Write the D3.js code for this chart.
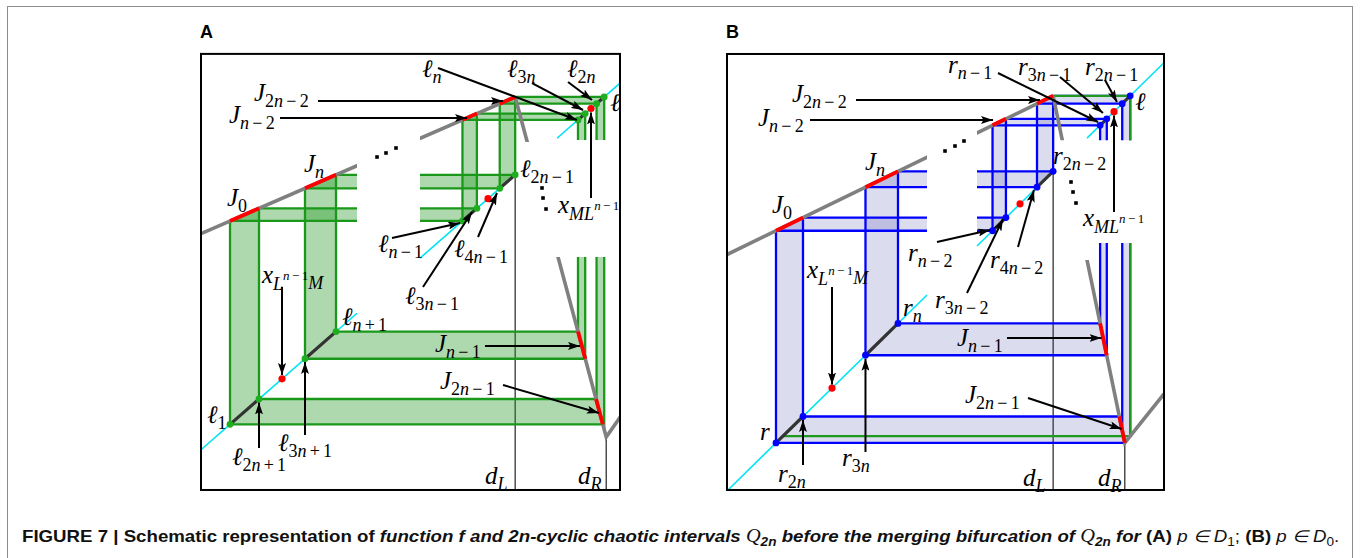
<!DOCTYPE html>
<html>
<head>
<meta charset="utf-8">
<script src="https://cdn.jsdelivr.net/npm/d3@7"></script>
<style>
  body { margin: 0; background: #fff; }
  svg { display: block; }
</style>
</head>
<body>
<svg id="fig" width="1360" height="558"></svg>
<script>
// ---------------------------------------------------------------
// Schematic of the map f and the 2n-cyclic chaotic intervals.
// All geometry lives on the unit square: the diagonal is y = x.
// ---------------------------------------------------------------

// ----- Panel A  (p in D1) -----
// orbit points on the diagonal
const orbitNamesA = ["ℓ1","ℓ2n+1","ℓ3n+1","ℓn+1","ℓn−1","ℓ3n−1","ℓ4n−1","ℓ2n−1","ℓn","ℓ3n","ℓ2n","ℓ"];
const orbitValsA  = [0.0694,0.1388,0.2488,0.3230,0.6255,0.6600,0.7147,0.7516,0.9019,0.9191,0.9463,0.9646];
// graph of f: left end, maximum, minimum, right end
const graphA = [[0,0.591],[0.7516,0.9646],[0.9694,0.0349],[1.02,0.1175]];
// fixed-point markers on the diagonal (red)
const markA = [0.1938, 0.6866, 0.933];
// visible pieces of the diagonal
const diagA = [[0,0.3732],[0.5239,0.7584],[0.8517,1.01]];
const gapXA = [0.3732, 0.5239];       // break on the left branch
const gapYBandA = [0.527, 0.847];     // break on the tall vertical strips
const gapYGraphA = [0.527, 0.8414];   // break on the right branch
const boxA = [0, 1.0024, -0.110, 1.0823];

// ----- Panel B  (p in D0) -----
const orbitNamesB = ["r","r2n","r3n","rn","rn−2","r3n−2","r4n−2","r2n−2","rn−1","r3n−1","r2n−1","ℓ"];
const orbitValsB  = [0.1121,0.1739,0.3169,0.3913,0.6076,0.6383,0.7094,0.7463,0.8538,0.8691,0.9044,0.9227];
const graphB = [[0,0.5519],[0.7463,0.9227],[0.9103,0.1121],[1.0,0.227]];
const markB = [0.2403, 0.6705, 0.8856];
const diagB = [[0.0023,0.4577],[0.5721,0.7506],[0.8238,1.0]];
const gapXB = [0.4577, 0.5721];
const gapYBandB = [0.5789, 0.8192];
const gapYGraphB = [0.5394, 0.8192];
const boxB = [0, 1, 0.0023, 1.0204];

// intervals J_k = [orbit i, orbit j]  (J0, Jn, Jn-2, J2n-2, Jn-1, J2n-1)
const intervalIdx = [[0,1],[2,3],[4,5],[6,7],[8,9],[10,11]];
// image of each J_k on the diagonal and the branch of f used
const imageIdx = [[4,5,"L"],[6,7,"L"],[8,9,"L"],[10,11,"L"],[2,3,"R"],[0,1,"R"]];
const gapYStrips = [4,5];   // vertical strips broken in the middle
const gapXStrips = [0,1];   // horizontal strips broken in the middle

// ----- annotations (data coordinates) -----
const labelsA = [
  {x:0.1268,y:0.9535,base:"J",sub:"2n−2"},
  {x:0.0670,y:0.8934,base:"J",sub:"n−2"},
  {x:0.2464,y:0.7594,base:"J",sub:"n"},
  {x:0.0622,y:0.6664,base:"J",sub:"0"},
  {x:0.5287,y:1.0191,base:"ℓ",sub:"n"},
  {x:0.7321,y:1.0191,base:"ℓ",sub:"3n"},
  {x:0.8756,y:1.0191,base:"ℓ",sub:"2n"},
  {x:0.9785,y:0.9262,base:"ℓ"},
  {x:0.8541,y:0.6473,base:"x",sub:"ML",sup:"n−1"},
  {x:0.7632,y:0.7457,base:"ℓ",sub:"2n−1"},
  {x:0.4234,y:0.5407,base:"ℓ",sub:"n−1"},
  {x:0.6053,y:0.5270,base:"ℓ",sub:"4n−1"},
  {x:0.4880,y:0.3985,base:"ℓ",sub:"3n−1"},
  {x:0.1459,y:0.4559,base:"x",sub:"L",sup:"n−1",sub2:"M"},
  {x:0.3373,y:0.3411,base:"ℓ",sub:"n+1"},
  {x:0.5598,y:0.2673,base:"J",sub:"n−1"},
  {x:0.5718,y:0.1661,base:"J",sub:"2n−1"},
  {x:0.0144,y:0.0731,base:"ℓ",sub:"1"},
  {x:0.0742,y:-0.0417,base:"ℓ",sub:"2n+1"},
  {x:0.1842,y:-0.0034,base:"ℓ",sub:"3n+1"},
  {x:0.6794,y:-0.0936,base:"d",sub:"L"},
  {x:0.9019,y:-0.0936,base:"d",sub:"R"}
];
const arrowsA = [
  [0.2799,0.9535,0.7225,0.9535],
  [0.1890,0.9070,0.6364,0.9070],
  [0.5670,1.0437,0.8995,0.9016],
  [0.7919,1.0027,0.9139,0.9289],
  [0.8780,1.0055,0.9354,0.9563],
  [0.9330,0.6883,0.9330,0.9221],
  [0.4569,0.5789,0.6196,0.6197],
  [0.6627,0.5817,0.7081,0.7020],
  [0.5311,0.4450,0.6483,0.6500],
  [0.1938,0.4450,0.1938,0.2044],
  [0.6794,0.2837,0.9067,0.2837],
  [0.7225,0.1770,0.9520,0.1005],
  [0.1388,0.0048,0.1388,0.1292],
  [0.2488,0.0403,0.2488,0.2399]
];
const dotsA = [[0.4211,0.8004],[0.4426,0.8114],[0.4665,0.8250],
               [0.8158,0.7157],[0.8182,0.6883],[0.8254,0.6582]];

const labelsB = [
  {x:0.1487,y:0.9083,base:"J",sub:"2n−2"},
  {x:0.0709,y:0.8522,base:"J",sub:"n−2"},
  {x:0.3158,y:0.7495,base:"J",sub:"n"},
  {x:0.1030,y:0.6491,base:"J",sub:"0"},
  {x:0.5057,y:0.9760,base:"r",sub:"n−1"},
  {x:0.6659,y:0.9713,base:"r",sub:"3n−1"},
  {x:0.8192,y:0.9713,base:"r",sub:"2n−1"},
  {x:0.9336,y:0.8896,base:"ℓ"},
  {x:0.7460,y:0.7635,base:"r",sub:"2n−2"},
  {x:0.8146,y:0.6187,base:"x",sub:"ML",sup:"n−1"},
  {x:0.4142,y:0.5370,base:"r",sub:"n−2"},
  {x:0.6018,y:0.5207,base:"r",sub:"4n−2"},
  {x:0.4760,y:0.4273,base:"r",sub:"3n−2"},
  {x:0.1831,y:0.4973,base:"x",sub:"L",sup:"n−1",sub2:"M"},
  {x:0.4027,y:0.4086,base:"r",sub:"n"},
  {x:0.5263,y:0.3385,base:"J",sub:"n−1"},
  {x:0.5446,y:0.2054,base:"J",sub:"2n−1"},
  {x:0.0755,y:0.1190,base:"r"},
  {x:0.1167,y:0.0210,base:"r",sub:"2n"},
  {x:0.2632,y:0.0583,base:"r",sub:"3n"},
  {x:0.6773,y:0.0116,base:"d",sub:"L"},
  {x:0.8490,y:0.0116,base:"d",sub:"R"}
];
const arrowsB = [
  [0.2952,0.9130,0.7162,0.9130],
  [0.1899,0.8663,0.6087,0.8663],
  [0.6201,0.9760,0.8490,0.8616],
  [0.7620,0.9667,0.8604,0.8826],
  [0.8650,0.9597,0.8924,0.9083],
  [0.8856,0.6514,0.8856,0.8768],
  [0.4805,0.5814,0.6018,0.6094],
  [0.6659,0.5697,0.7025,0.7028],
  [0.5492,0.4623,0.6316,0.6351],
  [0.2403,0.4763,0.2403,0.2486],
  [0.6407,0.3572,0.8570,0.3572],
  [0.6888,0.2171,0.9030,0.1447],
  [0.1739,0.0607,0.1739,0.1657],
  [0.3169,0.0910,0.3169,0.3086]
];
const dotsB = [[0.4989,0.7939],[0.5217,0.8055],[0.5423,0.8172],
               [0.7872,0.7215],[0.7918,0.6981],[0.7986,0.6724]];

// caption runs: [text, style]
const captionRuns = [
  ["FIGURE 7 | Schematic representation of ", "b"],
  ["function f and 2n-cyclic chaotic intervals ", "bi"],
  ["Q", "q"], ["2n", "qs"],
  [" before the merging bifurcation of ", "bi"],
  ["Q", "q"], ["2n", "qs"],
  [" for ", "bi"],
  ["(A)", "b"], [" p ∈ D", "i"], ["1", "s"], ["; ", "n"],
  ["(B)", "b"], [" p ∈ D", "i"], ["0", "s"], [".", "n"]
];

// ---------------------------------------------------------------
const MATH_FONT = "'Liberation Serif','DejaVu Serif',serif";
const svg = d3.select("#fig");
const defs = svg.append("defs");

defs.append("marker").attr("id", "arrowhead")
  .attr("viewBox", "0 0 12 8").attr("refX", 12).attr("refY", 4)
  .attr("markerWidth", 12).attr("markerHeight", 8)
  .attr("markerUnits", "userSpaceOnUse").attr("orient", "auto")
  .append("path").attr("d", "M0,0 L12,4 L0,8 L2.5,4 Z").attr("fill", "#000");

// outer frame of the figure
svg.append("rect").attr("x", 7.5).attr("y", 6.5).attr("width", 1345).attr("height", 700)
  .attr("fill", "none").attr("stroke", "#8c8c8c").attr("stroke-width", 1);

const MAIN_SIZE = 25, SUB_SIZE = 18, SUP_SIZE = 13;

function mathLabel(g, px, py, spec) {
  const t = g.append("text").attr("x", px).attr("y", py)
    .attr("font-family", MATH_FONT).attr("fill", "#000");
  let cur = 0;
  const run = (str, size, shift) => {
    const toks = str.match(/[A-Za-zℓ]+|[−+]|[0-9]+/g) || [];
    let prevOp = false;
    toks.forEach(tok => {
      const isLetter = /[A-Za-zℓ]/.test(tok);
      const isOp = /[−+]/.test(tok);
      const ts = t.append("tspan").text(tok)
        .attr("font-size", size)
        .attr("font-style", isLetter ? "italic" : "normal")
        .attr("dy", shift - cur);
      if (isOp || prevOp) ts.attr("dx", size * 0.18);
      prevOp = isOp;
      cur = shift;
    });
  };
  run(spec.base, MAIN_SIZE, 0);
  if (spec.sub) run(spec.sub, SUB_SIZE, spec.sup ? 7 : 6);
  if (spec.sup) run(spec.sup, SUP_SIZE, -3);
  if (spec.sub2) run(spec.sub2, SUB_SIZE, 6);
}

function drawPanel(P) {
  const x = d3.scaleLinear().domain([0, 1]).range(P.xRange);
  const y = d3.scaleLinear().domain([0, 1]).range(P.yRange);
  const id = P.id;
  const bx0 = x(P.box[0]), bx1 = x(P.box[1]);
  const by0 = y(P.box[3]), by1 = y(P.box[2]);

  defs.append("clipPath").attr("id", id + "-box").append("rect")
    .attr("x", bx0).attr("y", by0).attr("width", bx1 - bx0).attr("height", by1 - by0);
  const clipX = (gap, name) => {
    const cp = defs.append("clipPath").attr("id", name);
    cp.append("rect").attr("x", bx0).attr("y", by0).attr("width", x(gap[0]) - bx0).attr("height", by1 - by0);
    cp.append("rect").attr("x", x(gap[1])).attr("y", by0).attr("width", bx1 - x(gap[1])).attr("height", by1 - by0);
  };
  const clipY = (gap, name) => {
    const cp = defs.append("clipPath").attr("id", name);
    cp.append("rect").attr("x", bx0).attr("y", by0).attr("width", bx1 - bx0).attr("height", y(gap[1]) - by0);
    cp.append("rect").attr("x", bx0).attr("y", y(gap[0])).attr("width", bx1 - bx0).attr("height", by1 - y(gap[0]));
  };
  clipX(P.gapX, id + "-gx");
  clipY(P.gapYBand, id + "-gyb");
  clipY(P.gapYGraph, id + "-gyg");

  const V = P.graph;
  const f = t => {
    for (let i = 0; i < V.length - 1; i++) {
      if (t <= V[i + 1][0] || i === V.length - 2) {
        const [x0, y0] = V[i], [x1, y1] = V[i + 1];
        return y0 + (t - x0) * (y1 - y0) / (x1 - x0);
      }
    }
  };
  const inv = (v, seg) => {
    const [x0, y0] = V[seg], [x1, y1] = V[seg + 1];
    return x0 + (v - y0) * (x1 - x0) / (y1 - y0);
  };
  const graphPts = (a, b) => {
    const pts = [[a, f(a)]];
    V.forEach(p => { if (p[0] > a && p[0] < b) pts.push(p); });
    pts.push([b, f(b)]);
    return pts;
  };
  const O = P.orbit;
  const line = d3.line().x(p => x(p[0])).y(p => y(p[1]));

  // strips of the cobweb
  const bands = [];
  intervalIdx.forEach((J, k) => {
    const a = O[J[0]], b = O[J[1]];
    bands.push({
      poly: graphPts(a, b).concat([[b, b], [a, a]]),
      edges: [[[a, f(a)], [a, a]], [[b, f(b)], [b, b]]],
      clip: gapYStrips.includes(k) ? id + "-gyb" : null
    });
  });
  const jSegs = [];
  imageIdx.forEach((m, k) => {
    const c = O[m[0]], d = O[m[1]], seg = m[2] === "L" ? 0 : 1;
    const gc = inv(c, seg), gd = inv(d, seg);
    bands.push({
      poly: [[gc, c], [gd, d], [d, d], [c, c]],
      edges: [[[gc, c], [c, c]], [[gd, d], [d, d]]],
      clip: gapXStrips.includes(k) ? id + "-gx" : null
    });
    jSegs.push([[gc, c], [gd, d]]);
  });

  const root = svg.append("g").attr("clip-path", `url(#${id}-box)`);

  // d_L and d_R guide lines
  [V[1], V[2]].forEach(p => {
    root.append("line").attr("x1", x(p[0])).attr("x2", x(p[0]))
      .attr("y1", y(p[1])).attr("y2", by1)
      .attr("stroke", "#222").attr("stroke-width", 1.2);
  });

  const bandG = root.append("g");
  bands.forEach(b => {
    const gg = bandG.append("g");
    if (b.clip) gg.attr("clip-path", `url(#${b.clip})`);
    gg.append("path").attr("d", line(b.poly) + "Z")
      .attr("fill", P.fill).attr("fill-opacity", P.fillOpacity).attr("stroke", "none");
  });
  bands.forEach(b => {
    const gg = bandG.append("g");
    if (b.clip) gg.attr("clip-path", `url(#${b.clip})`);
    b.edges.forEach(e => {
      gg.append("path").attr("d", line(e)).attr("fill", "none")
        .attr("stroke", P.edge).attr("stroke-width", 2.3);
    });
  });

  // orbit of the critical value (panel B)
  if (P.orbitLine) {
    const c = V[1][0], fc = f(c), f2 = f(fc);
    root.append("g").attr("clip-path", `url(#${id}-gyb)`)
      .append("path").attr("d", line([[c, fc], [fc, fc], [fc, f2], [f2, f2]]))
      .attr("fill", "none").attr("stroke", "#1f9a1f").attr("stroke-width", 2.2);
  }

  // diagonal
  P.diag.forEach(s => {
    root.append("path").attr("d", line([[s[0], s[0]], [s[1], s[1]]]))
      .attr("stroke", "#00e4f4").attr("stroke-width", 1.6).attr("fill", "none");
  });

  // graph of f
  root.append("g").attr("clip-path", `url(#${id}-gx)`)
    .append("path").attr("d", line([V[0], V[1]]))
    .attr("fill", "none").attr("stroke", "#808080").attr("stroke-width", 3.6);
  root.append("g").attr("clip-path", `url(#${id}-gyg)`)
    .append("path").attr("d", line([V[1], V[2], V[3]]))
    .attr("fill", "none").attr("stroke", "#808080").attr("stroke-width", 3.6)
    .attr("stroke-linejoin", "miter");

  // intervals J_k on the graph
  jSegs.forEach(s => {
    const a = Math.min(s[0][0], s[1][0]), b = Math.max(s[0][0], s[1][0]);
    root.append("path").attr("d", line(graphPts(a, b)))
      .attr("fill", "none").attr("stroke", "#ff0000").attr("stroke-width", 3.8);
  });

  // invariant pieces on the diagonal
  intervalIdx.forEach(J => {
    const a = O[J[0]], b = O[J[1]];
    root.append("path").attr("d", line([[a, a], [b, b]]))
      .attr("stroke", "#333").attr("stroke-width", 3.2).attr("fill", "none");
  });

  // orbit points
  root.selectAll(null).data(O).join("circle")
    .attr("cx", v => x(v)).attr("cy", v => y(v)).attr("r", 3.4)
    .attr("fill", P.dot);
  root.selectAll(null).data(P.marks).join("circle")
    .attr("cx", v => x(v)).attr("cy", v => y(v)).attr("r", 3.6)
    .attr("fill", "#ff0000");

  const ann = svg.append("g");
  P.arrows.forEach(a => {
    ann.append("line").attr("x1", x(a[0])).attr("y1", y(a[1]))
      .attr("x2", x(a[2])).attr("y2", y(a[3]))
      .attr("stroke", "#000").attr("stroke-width", 2)
      .attr("marker-end", "url(#arrowhead)");
  });
  P.dots.forEach(d => {
    ann.append("rect").attr("x", x(d[0]) - 1.8).attr("y", y(d[1]) - 1.8)
      .attr("width", 3.6).attr("height", 3.6).attr("fill", "#000");
  });
  P.labels.forEach(l => mathLabel(ann, x(l.x), y(l.y), l));

  // panel frame and letter
  svg.append("rect").attr("x", bx0).attr("y", by0).attr("width", bx1 - bx0).attr("height", by1 - by0)
    .attr("fill", "none").attr("stroke", "#000").attr("stroke-width", 2);
  svg.append("text").attr("x", bx0 - 1).attr("y", by0 - 16)
    .attr("font-family", "'Liberation Sans',Arial,sans-serif").attr("font-weight", "bold")
    .attr("font-size", 18).text(P.letter);
}

drawPanel({
  id: "pa", letter: "A", xRange: [201, 619], yRange: [449.75, 84],
  box: boxA, graph: graphA, orbit: orbitValsA, marks: markA, diag: diagA,
  gapX: gapXA, gapYBand: gapYBandA, gapYGraph: gapYGraphA,
  fill: "rgb(30,150,30)", fillOpacity: 0.36, edge: "#1a981a", dot: "#1fae1f",
  orbitLine: false, labels: labelsA, arrows: arrowsA, dots: dotsA
});
drawPanel({
  id: "pb", letter: "B", xRange: [727, 1164], yRange: [490.98, 62.72],
  box: boxB, graph: graphB, orbit: orbitValsB, marks: markB, diag: diagB,
  gapX: gapXB, gapYBand: gapYBandB, gapYGraph: gapYGraphB,
  fill: "rgb(60,60,165)", fillOpacity: 0.18, edge: "#0000ff", dot: "#0000ff",
  orbitLine: true, labels: labelsB, arrows: arrowsB, dots: dotsB
});

// caption
const cap = svg.append("text").attr("x", 22).attr("y", 542)
  .attr("font-family", "'Liberation Sans Narrow','Liberation Sans',Arial,sans-serif")
  .attr("font-size", 16.5).attr("fill", "#111");
let capShift = 0;
captionRuns.forEach(([txt, st]) => {
  const ts = cap.append("tspan").text(txt);
  let shift = 0;
  if (st === "b") ts.attr("font-weight", "bold");
  if (st === "bi") ts.attr("font-weight", "bold").attr("font-style", "italic");
  if (st === "i") ts.attr("font-style", "italic");
  if (st === "q") ts.attr("font-family", MATH_FONT).attr("font-style", "italic").attr("font-size", 18);
  if (st === "qs") { ts.attr("font-weight", "bold").attr("font-style", "italic").attr("font-size", 12); shift = 4; }
  if (st === "s") { ts.attr("font-size", 12); shift = 4; }
  ts.attr("dy", shift - capShift);
  capShift = shift;
});
const capLen = cap.node().getComputedTextLength();
cap.attr("transform", `translate(22,0) scale(${1318 / capLen},1) translate(-22,0)`);
</script>
</body>
</html>
